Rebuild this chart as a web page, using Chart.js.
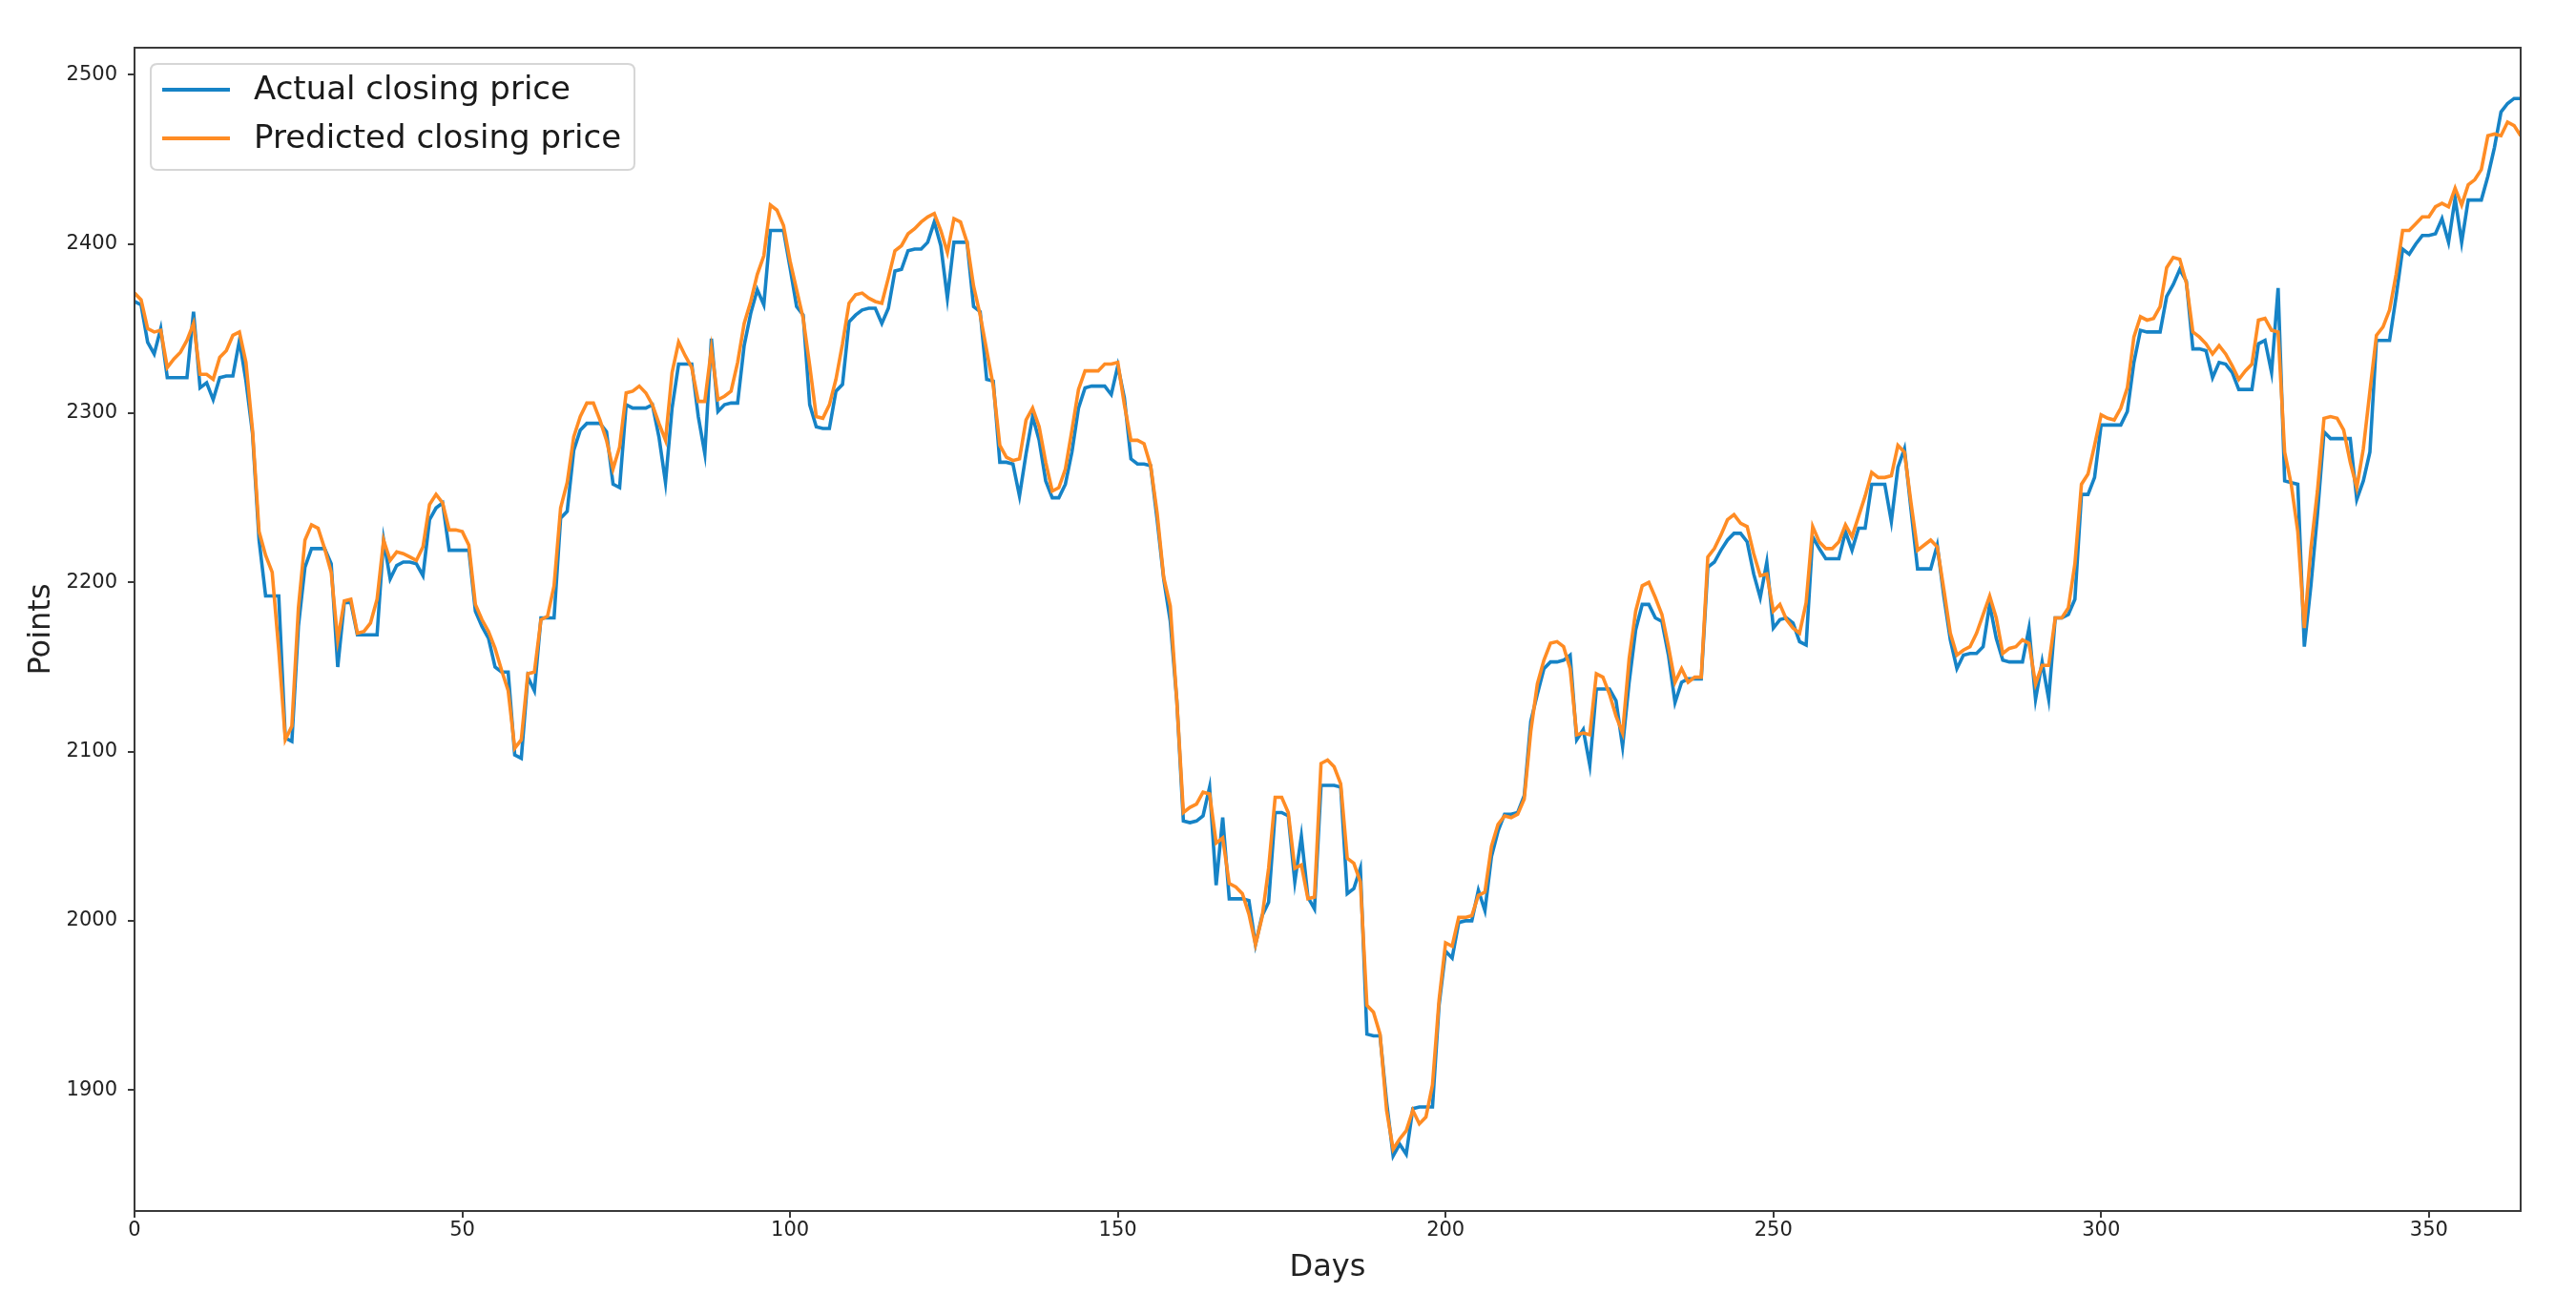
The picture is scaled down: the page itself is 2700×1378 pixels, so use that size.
<!DOCTYPE html>
<html>
<head>
<meta charset="utf-8">
<script src="https://cdn.jsdelivr.net/npm/chart.js@4.4.1/dist/chart.umd.min.js"></script>
<style>
  html, body { margin: 0; padding: 0; background: #ffffff; }
  #wrap { position: relative; width: 2700px; height: 1378px; }
</style>
</head>
<body>
<div id="wrap"><canvas id="c"></canvas></div>
<script>
// ---- data ----
const seriesLabels = ['Actual closing price', 'Predicted closing price'];
const seriesColors = ['#1683c6', '#ff8c24'];
const xTickValues = [0, 50, 100, 150, 200, 250, 300, 350];
const yTickValues = [1900, 2000, 2100, 2200, 2300, 2400, 2500];

const actualClose = [
  2366,2364,2342,2335,2350,2321,2321,2321,2321,2360,
  2315,2318,2308,2321,2322,2322,2343,2319,2288,2225,
  2192,2192,2192,2108,2106,2174,2209,2220,2220,2220,
  2211,2150,2188,2188,2169,2169,2169,2169,2225,2202,
  2210,2212,2212,2211,2204,2237,2244,2247,2219,2219,
  2219,2219,2183,2174,2167,2150,2147,2147,2098,2096,
  2144,2136,2179,2179,2179,2238,2242,2278,2290,2294,
  2294,2294,2289,2258,2256,2305,2303,2303,2303,2305,
  2286,2259,2303,2329,2329,2329,2298,2276,2344,2301,
  2305,2306,2306,2340,2359,2373,2364,2408,2408,2408,
  2386,2363,2358,2305,2292,2291,2291,2313,2317,2354,
  2358,2361,2362,2362,2353,2362,2384,2385,2396,2397,
  2397,2401,2413,2399,2368,2401,2401,2401,2363,2360,
  2320,2319,2271,2271,2270,2251,2276,2298,2284,2260,
  2250,2250,2258,2277,2303,2315,2316,2316,2316,2311,
  2328,2309,2273,2270,2270,2269,2237,2202,2177,2130,
  2059,2058,2059,2062,2079,2021,2061,2013,2013,2013,
  2012,1986,2003,2011,2064,2064,2062,2023,2050,2014,
  2007,2080,2080,2080,2079,2016,2019,2031,1933,1932,
  1932,1893,1861,1868,1862,1889,1890,1890,1890,1950,
  1982,1978,1999,2000,2000,2018,2006,2038,2053,2063,
  2063,2064,2074,2118,2134,2149,2153,2153,2154,2157,
  2107,2113,2092,2137,2137,2137,2130,2103,2141,2172,
  2187,2187,2179,2177,2157,2129,2141,2143,2143,2143,
  2209,2212,2219,2225,2229,2229,2224,2205,2191,2212,
  2173,2178,2179,2176,2165,2163,2227,2220,2214,2214,
  2214,2230,2219,2232,2232,2258,2258,2258,2236,2268,
  2279,2243,2208,2208,2208,2222,2192,2166,2149,2157,
  2158,2158,2162,2187,2167,2154,2153,2153,2153,2173,
  2131,2153,2131,2179,2179,2181,2190,2252,2252,2262,
  2293,2293,2293,2293,2301,2330,2349,2348,2348,2348,
  2369,2376,2385,2378,2338,2338,2337,2321,2330,2329,
  2324,2314,2314,2314,2341,2343,2324,2374,2260,2259,
  2258,2162,2198,2240,2289,2285,2285,2285,2285,2249,
  2260,2277,2343,2343,2343,2369,2397,2394,2400,2405,
  2405,2406,2415,2401,2427,2401,2426,2426,2426,2440,
  2457,2478,2483,2486,2486
];

const predictedClose = [
  2371,2367,2350,2348,2349,2327,2332,2336,2343,2353,
  2323,2323,2320,2333,2337,2346,2348,2330,2290,2230,
  2216,2206,2160,2107,2115,2185,2225,2234,2232,2220,
  2206,2166,2189,2190,2170,2171,2176,2190,2225,2213,
  2218,2217,2215,2213,2221,2246,2252,2247,2231,2231,
  2230,2222,2187,2178,2171,2161,2148,2136,2102,2107,
  2146,2147,2178,2180,2198,2244,2259,2286,2298,2306,
  2306,2296,2284,2267,2280,2312,2313,2316,2312,2305,
  2294,2284,2324,2342,2334,2327,2307,2307,2338,2308,
  2310,2313,2330,2353,2366,2382,2393,2423,2420,2411,
  2390,2373,2356,2328,2298,2297,2305,2320,2341,2365,
  2370,2371,2368,2366,2365,2380,2396,2399,2406,2409,
  2413,2416,2418,2408,2395,2415,2413,2401,2375,2358,
  2337,2316,2281,2274,2272,2273,2296,2303,2292,2271,
  2254,2256,2267,2290,2314,2325,2325,2325,2329,2329,
  2330,2305,2284,2284,2282,2269,2241,2203,2186,2130,
  2064,2067,2069,2076,2075,2046,2049,2022,2020,2016,
  2004,1986,2002,2031,2073,2073,2064,2031,2033,2013,
  2014,2093,2095,2091,2081,2037,2034,2023,1950,1946,
  1933,1888,1865,1871,1876,1888,1880,1884,1903,1953,
  1987,1985,2002,2002,2003,2015,2017,2044,2057,2062,
  2061,2063,2072,2112,2140,2154,2164,2165,2162,2149,
  2110,2111,2110,2146,2144,2134,2121,2111,2155,2183,
  2198,2200,2191,2181,2162,2141,2149,2141,2144,2144,
  2215,2220,2228,2237,2240,2235,2233,2217,2204,2205,
  2183,2187,2178,2173,2170,2188,2233,2224,2220,2220,
  2224,2234,2227,2239,2251,2265,2262,2262,2263,2281,
  2277,2247,2219,2222,2225,2221,2196,2170,2157,2160,
  2162,2170,2181,2192,2179,2158,2161,2162,2166,2164,
  2140,2151,2151,2179,2179,2185,2211,2258,2264,2281,
  2299,2297,2296,2303,2315,2345,2357,2355,2356,2363,
  2386,2392,2391,2377,2348,2345,2341,2335,2340,2335,
  2328,2320,2325,2329,2355,2356,2349,2348,2277,2258,
  2230,2173,2220,2254,2297,2298,2297,2290,2271,2256,
  2279,2313,2346,2351,2361,2382,2408,2408,2412,2416,
  2416,2422,2424,2422,2433,2423,2435,2438,2444,2464,
  2465,2464,2472,2470,2464
];

const days = actualClose.map((_, i) => i);

// ---- chart ----
const FONT = '"DejaVu Sans", "Liberation Sans", sans-serif';

const framePlugin = {
  id: 'frameAndLegend',
  afterDraw(chart) {
    const ctx = chart.ctx;
    const a = chart.chartArea;
    ctx.save();
    // axes frame (all four spines)
    ctx.strokeStyle = '#3a3a3a';
    ctx.lineWidth = 2;
    ctx.strokeRect(a.left, a.top, a.right - a.left, a.bottom - a.top);

    // legend box (upper left, matplotlib style)
    const bx = a.left + 17, by = a.top + 17, bw = 507, bh = 111, r = 7;
    ctx.beginPath();
    ctx.moveTo(bx + r, by);
    ctx.lineTo(bx + bw - r, by);
    ctx.quadraticCurveTo(bx + bw, by, bx + bw, by + r);
    ctx.lineTo(bx + bw, by + bh - r);
    ctx.quadraticCurveTo(bx + bw, by + bh, bx + bw - r, by + bh);
    ctx.lineTo(bx + r, by + bh);
    ctx.quadraticCurveTo(bx, by + bh, bx, by + bh - r);
    ctx.lineTo(bx, by + r);
    ctx.quadraticCurveTo(bx, by, bx + r, by);
    ctx.closePath();
    ctx.fillStyle = 'rgba(255,255,255,0.85)';
    ctx.fill();
    ctx.strokeStyle = '#d6d6d6';
    ctx.lineWidth = 2;
    ctx.stroke();

    const rows = [by + 27, by + 78];
    chart.data.datasets.forEach((ds, i) => {
      const y = rows[i];
      ctx.strokeStyle = ds.borderColor;
      ctx.lineWidth = 4;
      ctx.beginPath();
      ctx.moveTo(bx + 12, y);
      ctx.lineTo(bx + 83, y);
      ctx.stroke();
      ctx.fillStyle = '#1a1a1a';
      ctx.font = '34px ' + FONT;
      ctx.textBaseline = 'middle';
      ctx.textAlign = 'left';
      ctx.fillText(ds.label, bx + 108, y + 1);
    });
    ctx.restore();
  }
};

new Chart(document.getElementById('c'), {
  type: 'line',
  data: {
    datasets: [
      {
        label: seriesLabels[0],
        data: days.map((d, i) => ({ x: d, y: actualClose[i] })),
        borderColor: seriesColors[0],
        backgroundColor: seriesColors[0],
        order: 2
      },
      {
        label: seriesLabels[1],
        data: days.map((d, i) => ({ x: d, y: predictedClose[i] })),
        borderColor: seriesColors[1],
        backgroundColor: seriesColors[1],
        order: 1
      }
    ]
  },
  options: {
    responsive: true,
    maintainAspectRatio: false,
    animation: false,
    devicePixelRatio: 1,
    layout: { padding: { top: 50, right: 58, left: 0, bottom: 0 } },
    elements: {
      point: { radius: 0, hoverRadius: 0 },
      line: { borderWidth: 3.6, tension: 0, fill: false }
    },
    plugins: {
      legend: { display: false },
      tooltip: { enabled: false }
    },
    scales: {
      x: {
        type: 'linear',
        min: 0,
        max: 364,
        afterBuildTicks: (s) => { s.ticks = xTickValues.map(v => ({ value: v })); },
        afterFit: (s) => { s.height = 109; },
        ticks: {
          font: { family: FONT, size: 21 },
          color: '#222',
          padding: 1,
          maxRotation: 0,
          autoSkip: false,
          callback: (v) => String(v)
        },
        grid: { drawOnChartArea: false, drawTicks: true, tickLength: 7, color: '#3a3a3a', lineWidth: 2 },
        border: { display: false },
        title: {
          display: true,
          text: 'Days',
          font: { family: FONT, size: 32 },
          color: '#222',
          padding: { top: 0, bottom: 30 }
        }
      },
      y: {
        type: 'linear',
        min: 1828.5,
        max: 2516,
        afterBuildTicks: (s) => { s.ticks = yTickValues.map(v => ({ value: v })); },
        afterFit: (s) => { s.width = 141; },
        ticks: {
          font: { family: FONT, size: 21 },
          color: '#222',
          padding: 11,
          autoSkip: false,
          callback: (v) => String(v)
        },
        grid: { drawOnChartArea: false, drawTicks: true, tickLength: 7, color: '#3a3a3a', lineWidth: 2 },
        border: { display: false },
        title: {
          display: true,
          text: 'Points',
          font: { family: FONT, size: 32 },
          color: '#222',
          padding: { top: 24, bottom: 0 }
        }
      }
    }
  },
  plugins: [framePlugin]
});
</script>
</body>
</html>
